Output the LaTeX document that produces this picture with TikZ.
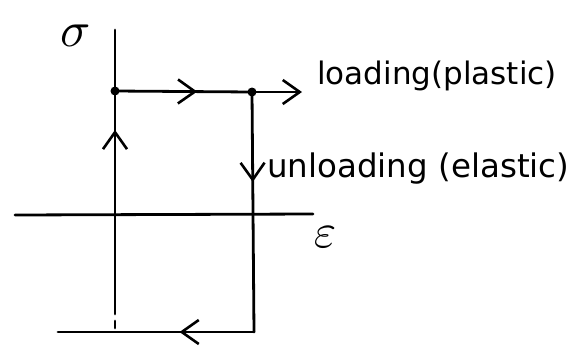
\documentclass[tikz,border=0pt]{standalone}
\usepackage{graphicx}
\usepackage{fontspec}
\setmainfont{DejaVu Sans}
\usetikzlibrary{arrows.meta,decorations.markings}
\tikzset{
  ln/.style={line width=2.8pt, line cap=round},
  tipstyle/.style={},
  barb/.style={-{Straight Barb[length=17pt,width=24pt,line width=2.6pt]}},
  midarrow/.style={postaction={decorate},decoration={markings,
     mark=at position #1 with {\arrow{Straight Barb[length=17pt,width=24pt,line width=2.6pt]}}}},
  lbl/.style={anchor=base west, inner sep=0pt, font=\fontsize{31}{34}\selectfont},
  sym/.style={anchor=center, inner sep=0pt},
  dot/.style={circle, fill=black, inner sep=0pt, minimum size=9pt}
}
\begin{document}
\begin{tikzpicture}[x=1pt,y=-1pt]
\useasboundingbox (0,0) rectangle (581,346);
% coordinates
\coordinate (top) at (115,30);
\node[dot] (A) at (115,91) {};
\node[dot] (B) at (252,92) {};
\coordinate (lend) at (302,92);
\coordinate (BR) at (254,332);
\coordinate (BL) at (58,332);
\coordinate (Lsolid) at (115,307);
\coordinate (Lbot) at (115,332);
\coordinate (eL) at (15,215);
\coordinate (eR) at (313,214);
% axes
\draw[ln] (top) -- (A.center);
\draw[ln, midarrow=0.82] (Lsolid) -- (A.center);
\draw[ln, dash pattern=on 7pt off 7pt] (Lsolid) -- (Lbot);
\draw[ln] (eL) -- (eR);
% loading path
\draw[ln, midarrow=0.6] (A.center) -- (B.center);
\draw[ln, barb] (B.center) -- (lend);
\draw[ln, midarrow=0.375] (B.center) -- (BR);
\draw[ln, midarrow=0.38] (BR) -- (BL);
% labels
\node[sym] (sig) at (76,36) {\scalebox{5}{$\sigma$}};
\node[lbl] (load) at (317,84) {loading(plastic)};
\node[lbl, font=\fontsize{32.5}{35}\selectfont] (unload) at (267,177) {unloading (elastic)};
\node[sym] (eps) at (325,237) {\scalebox{4.8}{$\varepsilon$}};
\end{tikzpicture}
\end{document}
